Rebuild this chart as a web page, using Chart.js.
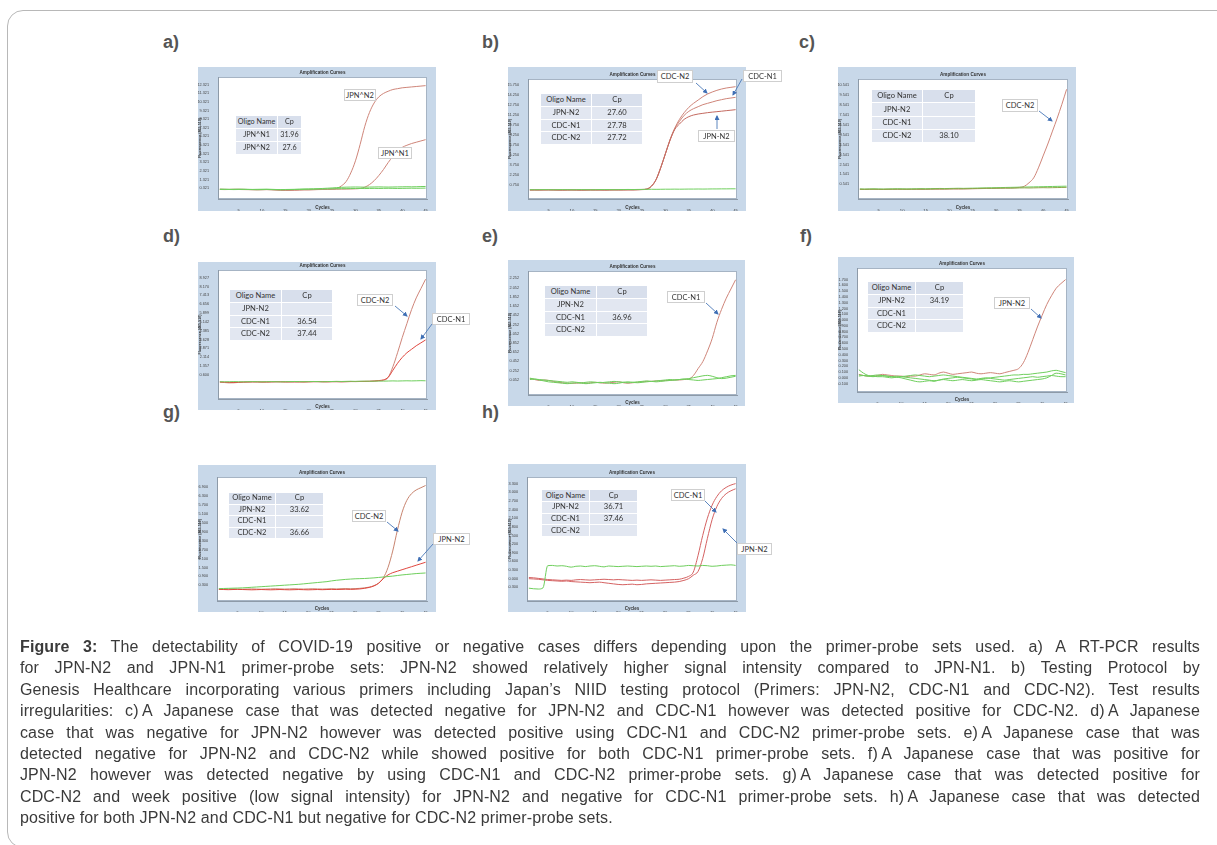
<!DOCTYPE html>
<html><head><meta charset="utf-8">
<script src="https://cdn.jsdelivr.net/npm/chart.js@4.4.0/dist/chart.umd.min.js"></script>
<style>
html,body{margin:0;padding:0;background:#fff;}
body{width:1217px;height:845px;position:relative;overflow:hidden;font-family:"Liberation Sans",Arial,sans-serif;}
#box{position:absolute;left:7px;top:10px;width:1240px;height:836px;border:1px solid #b8b8b8;border-radius:16px;}
.lab{position:absolute;font-weight:bold;font-size:18px;color:#555;line-height:18px;}
.panel{position:absolute;background:#c8d8e9;}
.panel canvas{display:block;}
table.cp{position:absolute;border-collapse:collapse;font-family:Lato,"Open Sans",sans-serif;font-size:7.6px;color:#333;table-layout:fixed;}
table.cp td{border:1.2px solid #fff;text-align:center;padding:0;background:#e2e7f1;line-height:1;white-space:nowrap;overflow:hidden;}
table.cp tr:first-child td{background:#d8dfec;}
.call{position:absolute;background:#fff;border:1px solid #cfcfcf;font-family:Lato,"Open Sans",sans-serif;font-size:7.5px;color:#333;display:flex;align-items:center;justify-content:center;box-sizing:border-box;white-space:nowrap;}
.cap{position:absolute;left:20px;white-space:nowrap;font-size:16px;letter-spacing:0.12px;color:#3a3a3a;line-height:21.4px;}
</style></head>
<body>
<div id="box"></div>
<script>
// ---------------- data ----------------
const cycles = [1,2,3,4,5,6,7,8,9,10,11,12,13,14,15,16,17,18,19,20,21,22,23,24,25,26,27,28,29,30,31,32,33,34,35,36,37,38,39,40,41,42,43,44,45];
const xTicks = [5,10,15,20,25,30,35,40,45];

// a)
const aJpnN2 = [0.22,0.20,0.19,0.20,0.21,0.20,0.18,0.17,0.16,0.17,0.18,0.16,0.13,0.10,0.08,0.09,0.11,0.13,0.15,0.14,0.16,0.18,0.20,0.22,0.24,0.30,0.60,1.10,2.10,3.50,5.40,7.50,9.10,10.20,10.90,11.30,11.55,11.75,11.85,11.95,12.00,12.05,12.10,12.15,12.20];
const aJpnN1 = [0.18,0.17,0.18,0.19,0.18,0.17,0.16,0.15,0.14,0.15,0.16,0.15,0.12,0.09,0.07,0.08,0.10,0.12,0.14,0.15,0.16,0.17,0.18,0.19,0.20,0.21,0.22,0.23,0.24,0.26,0.30,0.45,0.75,1.20,1.80,2.50,3.30,4.00,4.60,5.05,5.30,5.50,5.65,5.80,5.95];
const aGreen1 = [0.22,0.21,0.20,0.21,0.22,0.21,0.20,0.19,0.20,0.21,0.22,0.20,0.18,0.17,0.18,0.19,0.20,0.22,0.24,0.25,0.26,0.28,0.30,0.33,0.36,0.40,0.43,0.45,0.46,0.47,0.46,0.45,0.46,0.47,0.48,0.47,0.46,0.47,0.48,0.49,0.50,0.49,0.50,0.52,0.53];
const aGreen2 = [0.18,0.19,0.18,0.17,0.18,0.19,0.18,0.17,0.16,0.17,0.18,0.17,0.16,0.15,0.16,0.17,0.18,0.19,0.20,0.21,0.22,0.23,0.24,0.25,0.26,0.27,0.28,0.28,0.29,0.30,0.30,0.29,0.30,0.31,0.30,0.31,0.32,0.31,0.30,0.31,0.32,0.33,0.32,0.33,0.34];
const aTicks = [0.321,1.321,2.321,3.321,4.321,5.321,6.321,7.321,8.321,9.321,10.321,11.321,12.321];
const aTable = [["JPN^N1","31.96"],["JPN^N2","27.6"]];

// b)
const bCdcN2 = [0.02,0.01,0.02,0.03,0.02,0.01,0.00,0.01,0.02,0.01,0.00,-0.01,0.00,0.01,0.02,0.01,0.00,0.01,0.02,0.03,0.02,0.03,0.04,0.05,0.08,0.15,0.60,1.60,3.40,5.50,7.60,9.30,10.60,11.60,12.40,13.00,13.50,14.00,14.40,14.70,14.95,15.15,15.30,15.40,15.50];
const bCdcN1 = [0.01,0.02,0.01,0.02,0.03,0.02,0.01,0.00,0.01,0.02,0.01,0.00,0.01,0.02,0.01,0.02,0.01,0.02,0.03,0.02,0.03,0.04,0.03,0.05,0.07,0.14,0.58,1.58,3.38,5.48,7.55,9.20,10.30,11.20,11.80,12.20,12.50,12.80,13.00,13.20,13.40,13.55,13.70,13.80,13.90];
const bJpnN2 = [0.00,0.01,0.00,0.01,0.02,0.01,0.00,-0.01,0.00,0.01,0.00,-0.01,0.00,0.01,0.00,0.01,0.00,0.01,0.02,0.01,0.02,0.03,0.02,0.04,0.06,0.12,0.55,1.55,3.35,5.45,7.50,9.10,9.90,10.60,11.00,11.25,11.40,11.50,11.60,11.68,11.75,11.82,11.90,11.97,12.05];
const bGreen = [0.05,0.04,0.05,0.06,0.05,0.04,0.05,0.06,0.05,0.04,0.05,0.06,0.05,0.04,0.05,0.06,0.07,0.06,0.05,0.06,0.07,0.08,0.07,0.08,0.09,0.10,0.11,0.10,0.11,0.12,0.12,0.13,0.12,0.13,0.14,0.14,0.15,0.14,0.15,0.16,0.16,0.17,0.17,0.18,0.18];
const bTicks = [0.75,2.25,3.75,5.25,6.75,8.25,9.75,11.25,12.75,14.25,15.75];
const bTable = [["JPN-N2","27.60"],["CDC-N1","27.78"],["CDC-N2","27.72"]];

// c)
const cCdcN2 = [0.06,0.05,0.06,0.05,0.04,0.05,0.06,0.05,0.04,0.05,0.06,0.05,0.04,0.03,0.04,0.05,0.06,0.05,0.06,0.07,0.08,0.07,0.08,0.09,0.10,0.11,0.12,0.13,0.14,0.15,0.16,0.17,0.18,0.20,0.24,0.35,0.70,1.20,2.20,3.40,4.60,5.90,7.20,8.60,10.10];
const cGreen1 = [0.08,0.07,0.08,0.09,0.08,0.07,0.08,0.09,0.10,0.09,0.08,0.09,0.10,0.11,0.10,0.11,0.12,0.13,0.12,0.13,0.14,0.15,0.14,0.15,0.16,0.17,0.18,0.19,0.20,0.21,0.22,0.23,0.24,0.25,0.26,0.27,0.28,0.29,0.30,0.31,0.32,0.33,0.34,0.35,0.36];
const cGreen2 = [0.04,0.03,0.04,0.05,0.04,0.03,0.04,0.05,0.06,0.05,0.04,0.05,0.06,0.07,0.06,0.07,0.08,0.09,0.08,0.09,0.10,0.11,0.10,0.11,0.12,0.13,0.14,0.15,0.14,0.15,0.16,0.17,0.16,0.17,0.18,0.19,0.18,0.19,0.20,0.21,0.20,0.21,0.22,0.23,0.24];
const cTicks = [0.541,1.541,2.541,3.541,4.541,5.541,6.541,7.541,8.541,9.541,10.541];
const cTable = [["JPN-N2",""],["CDC-N1",""],["CDC-N2","38.10"]];

// d)
const dCdcN2 = [-0.02,-0.05,-0.08,-0.07,-0.04,-0.02,-0.01,0.00,0.01,0.00,-0.01,0.00,0.01,0.02,0.01,0.00,-0.01,0.00,0.01,0.02,0.03,0.02,0.01,0.02,0.03,0.02,0.01,0.02,0.03,0.04,0.05,0.04,0.05,0.07,0.10,0.14,0.40,1.30,2.50,3.80,5.00,6.20,7.20,8.00,8.80];
const dCdcN1 = [0.00,-0.02,-0.04,-0.05,-0.03,-0.01,0.00,0.01,0.00,-0.01,0.00,0.01,0.02,0.01,0.00,0.01,0.02,0.01,0.00,0.01,0.02,0.03,0.02,0.01,0.02,0.03,0.02,0.03,0.04,0.03,0.04,0.05,0.06,0.08,0.12,0.18,0.40,1.00,1.60,2.10,2.50,2.80,3.10,3.35,3.60];
const dGreen = [0.02,0.01,0.02,0.03,0.02,0.01,0.02,0.03,0.02,0.01,0.02,0.03,0.02,0.01,0.02,0.03,0.04,0.03,0.02,0.03,0.04,0.03,0.02,0.03,0.04,0.05,0.04,0.05,0.06,0.05,0.06,0.07,0.06,0.07,0.08,0.07,0.08,0.09,0.08,0.09,0.10,0.09,0.10,0.11,0.10];
const dTicks = [0.600,1.357,2.114,2.871,3.628,4.385,5.142,5.899,6.656,7.413,8.170,8.927];
const dTable = [["JPN-N2",""],["CDC-N1","36.54"],["CDC-N2","37.44"]];

// e)
const eCdcN1 = [0.08,0.06,0.04,0.05,0.04,0.02,0.00,-0.01,-0.02,-0.02,-0.02,-0.01,-0.02,-0.01,0.00,-0.01,-0.02,-0.01,0.00,0.01,-0.01,-0.02,-0.01,0.00,0.01,0.02,0.02,0.03,0.03,0.04,0.04,0.05,0.05,0.06,0.07,0.15,0.30,0.45,0.68,0.95,1.30,1.58,1.82,2.02,2.22];
const eGreen1 = [0.06,0.07,0.05,0.03,0.01,0.00,-0.01,-0.02,-0.03,-0.02,-0.01,-0.02,-0.03,-0.02,-0.01,0.00,-0.01,-0.02,-0.03,-0.02,0.00,0.01,0.00,-0.01,0.00,0.01,0.02,0.01,0.02,0.03,0.04,0.05,0.06,0.07,0.08,0.10,0.12,0.14,0.15,0.13,0.10,0.08,0.09,0.11,0.13];
const eGreen2 = [0.09,0.07,0.06,0.05,0.04,0.03,0.02,0.01,0.00,0.01,0.00,-0.01,0.00,0.01,0.00,-0.01,0.00,0.01,0.02,0.01,0.00,-0.01,0.00,0.01,0.02,0.03,0.02,0.03,0.04,0.05,0.06,0.05,0.06,0.07,0.06,0.05,0.04,0.05,0.06,0.07,0.08,0.10,0.12,0.14,0.15];
const eTicks = [0.052,0.252,0.452,0.652,0.852,1.052,1.252,1.452,1.652,1.852,2.052,2.252];
const eTable = [["JPN-N2",""],["CDC-N1","36.96"],["CDC-N2",""]];

// f)
const fJpnN2 = [0.06,0.04,0.03,0.03,0.04,0.06,0.05,0.04,0.03,0.03,0.02,0.03,0.03,0.05,0.07,0.06,0.05,0.08,0.10,0.08,0.06,0.07,0.08,0.09,0.10,0.08,0.07,0.08,0.09,0.08,0.07,0.09,0.11,0.13,0.16,0.26,0.44,0.66,0.88,1.08,1.27,1.42,1.55,1.63,1.70];
const fGreen1 = [0.14,0.08,0.04,0.03,0.02,0.02,0.01,0.00,0.01,0.00,-0.02,-0.04,-0.06,-0.07,-0.06,-0.05,-0.06,-0.04,-0.02,-0.01,0.00,0.01,0.00,-0.01,-0.02,-0.03,-0.02,-0.01,0.00,0.01,0.02,0.03,0.04,0.05,0.05,0.06,0.06,0.07,0.08,0.09,0.10,0.12,0.13,0.11,0.09];
const fGreen2 = [0.03,0.04,0.03,0.02,0.03,0.04,0.03,0.02,0.01,0.02,0.03,0.04,0.05,0.04,0.03,0.02,0.03,0.04,0.05,0.04,0.03,0.02,0.01,0.00,-0.01,-0.02,-0.01,0.00,-0.01,-0.02,-0.03,-0.04,-0.03,-0.02,-0.01,0.00,0.01,0.02,0.01,0.02,0.03,0.04,0.03,0.02,0.02];
const fGreen3 = [0.05,0.04,0.03,0.04,0.05,0.04,0.03,0.02,0.03,0.02,0.01,0.00,-0.01,-0.02,-0.03,-0.04,-0.05,-0.04,-0.03,-0.04,-0.05,-0.04,-0.03,-0.04,-0.05,-0.04,-0.03,-0.04,-0.05,-0.06,-0.07,-0.06,-0.05,-0.06,-0.07,-0.06,-0.05,-0.04,-0.03,-0.02,0.00,0.04,0.08,0.07,0.05];
const fTicks = [-0.1,0.0,0.1,0.2,0.3,0.4,0.5,0.6,0.7,0.8,0.9,1.0,1.1,1.2,1.3,1.4,1.5,1.6,1.7];
const fTable = [["JPN-N2","34.19"],["CDC-N1",""],["CDC-N2",""]];

// g)
const gCdcN2 = [0.05,0.04,0.05,0.06,0.05,0.04,0.05,0.06,0.05,0.04,0.05,0.06,0.07,0.06,0.05,0.06,0.07,0.06,0.05,0.06,0.07,0.06,0.05,0.06,0.07,0.06,0.07,0.08,0.07,0.08,0.10,0.13,0.18,0.28,0.45,0.80,1.50,2.60,4.00,5.20,6.00,6.45,6.70,6.85,7.00];
const gJpnN2 = [0.03,0.02,0.01,0.02,0.03,0.02,0.01,0.00,0.01,0.02,0.01,0.00,0.01,0.02,0.01,0.00,0.01,0.02,0.01,0.00,0.01,0.02,0.01,0.02,0.03,0.02,0.03,0.04,0.03,0.04,0.06,0.10,0.16,0.26,0.44,0.75,1.00,1.15,1.25,1.35,1.45,1.55,1.65,1.75,1.85];
const gGreen = [0.08,0.09,0.10,0.11,0.12,0.13,0.15,0.17,0.19,0.21,0.23,0.25,0.27,0.29,0.31,0.33,0.35,0.37,0.40,0.43,0.46,0.49,0.52,0.55,0.60,0.64,0.67,0.70,0.72,0.74,0.75,0.76,0.78,0.80,0.83,0.86,0.89,0.92,0.96,1.00,1.03,1.06,1.09,1.11,1.13];
const gTicks = [0.3,0.9,1.5,2.1,2.7,3.3,3.9,4.5,5.1,5.7,6.3,6.9];
const gTable = [["JPN-N2","33.62"],["CDC-N1",""],["CDC-N2","36.66"]];

// h)
const hCdcN1 = [0.04,0.03,0.01,-0.01,-0.03,-0.04,-0.05,-0.06,-0.05,-0.06,-0.04,-0.03,-0.04,-0.05,-0.04,-0.03,-0.02,-0.03,-0.04,-0.03,-0.04,-0.05,-0.06,-0.05,-0.06,-0.05,-0.04,-0.05,-0.06,-0.05,-0.04,-0.03,-0.02,0.02,0.08,0.23,0.80,1.50,2.10,2.55,2.85,3.05,3.17,3.25,3.30];
const hJpnN2 = [0.00,-0.01,-0.02,-0.04,-0.06,-0.07,-0.08,-0.09,-0.08,-0.10,-0.11,-0.12,-0.13,-0.14,-0.13,-0.12,-0.14,-0.16,-0.18,-0.20,-0.21,-0.20,-0.19,-0.21,-0.20,-0.18,-0.17,-0.16,-0.15,-0.14,-0.13,-0.12,-0.10,-0.06,0.00,0.12,0.25,0.70,1.40,2.05,2.50,2.78,2.95,3.05,3.12];
const hGreen = [-0.33,-0.35,-0.36,-0.32,0.45,0.46,0.44,0.45,0.43,0.40,0.43,0.44,0.42,0.44,0.45,0.43,0.41,0.44,0.43,0.42,0.43,0.44,0.43,0.42,0.43,0.44,0.43,0.44,0.42,0.43,0.44,0.45,0.43,0.44,0.46,0.45,0.44,0.46,0.45,0.43,0.44,0.46,0.47,0.48,0.46];
const hTicks = [-0.3,0.0,0.3,0.6,0.9,1.2,1.5,1.8,2.1,2.4,2.7,3.0,3.3];
const hTable = [["JPN-N2","36.71"],["CDC-N1","37.46"],["CDC-N2",""]];

const captionLines = [
"Figure 3: The detectability of COVID-19 positive or negative cases differs depending upon the primer-probe sets used. a) A RT-PCR results",
"for JPN-N2 and JPN-N1 primer-probe sets: JPN-N2 showed relatively higher signal intensity compared to JPN-N1. b) Testing Protocol by",
"Genesis Healthcare incorporating various primers including Japan\u2019s NIID testing protocol (Primers: JPN-N2, CDC-N1 and CDC-N2). Test results",
"irregularities: c)\u2009A Japanese case that was detected negative for JPN-N2 and CDC-N1 however was detected positive for CDC-N2. d)\u2009A Japanese",
"case that was negative for JPN-N2 however was detected positive using CDC-N1 and CDC-N2 primer-probe sets. e)\u2009A Japanese case that was",
"detected negative for JPN-N2 and CDC-N2 while showed positive for both CDC-N1 primer-probe sets. f)\u2009A Japanese case that was positive for",
"JPN-N2 however was detected negative by using CDC-N1 and CDC-N2 primer-probe sets. g)\u2009A Japanese case that was detected positive for",
"CDC-N2 and week positive (low signal intensity) for JPN-N2 and negative for CDC-N1 primer-probe sets. h)\u2009A Japanese case that was detected",
"positive for both JPN-N2 and CDC-N1 but negative for CDC-N2 primer-probe sets."
];

// ---------------- styles / layout ----------------
const SALMON='#cf8579', RED='#e0473f', DARKRED='#c46a60', GREEN='#6fcf5d', OLIVE='#8ea64a';

const framePlugin = {
  id:'frame',
  beforeDraw(ch){
    const {ctx, chartArea:a} = ch;
    ctx.save();
    ctx.fillStyle='#fff';
    ctx.fillRect(a.left,a.top,a.right-a.left,a.bottom-a.top);
    ctx.strokeStyle='#a6b4c4'; ctx.lineWidth=1;
    ctx.strokeRect(a.left+0.5,a.top+0.5,a.right-a.left-1,a.bottom-a.top-1);
    ctx.restore();
  },
  afterDraw(ch){
    const {ctx, chartArea:a} = ch;
    ctx.save();
    ctx.font='bold 4.6px "Liberation Sans"';
    ctx.fillStyle='#333'; ctx.textAlign='center'; ctx.textBaseline='middle';
    ctx.fillText('Amplification Curves',(a.left+a.right)/2,a.top-4);
    ctx.restore();
  }
};

function panel(frame, plot, yMin, yMax, yTicks, series){
  const W=frame[2]-frame[0], H=frame[3]-frame[1];
  const div=document.createElement('div'); div.className='panel';
  Object.assign(div.style,{left:frame[0]+'px',top:frame[1]+'px',width:W+'px',height:H+'px'});
  const cv=document.createElement('canvas'); cv.width=W; cv.height=H;
  cv.style.width=W+'px'; cv.style.height=H+'px';
  div.appendChild(cv); document.body.appendChild(div);
  const padL=plot[0]-frame[0], padT=plot[1]-frame[1], padR=frame[2]-plot[2], padB=frame[3]-plot[3];
  new Chart(cv,{
    type:'line',
    data:{datasets:series.map(s=>({
      data:cycles.map((c,i)=>({x:c,y:s.v[i]})),
      borderColor:s.c, borderWidth:s.w||1, pointRadius:0, fill:false,
      cubicInterpolationMode:'monotone'
    }))},
    options:{
      responsive:false, animation:false, devicePixelRatio:1, events:[],
      layout:{padding:{top:padT,right:padR,left:0,bottom:0}},
      plugins:{legend:{display:false},tooltip:{enabled:false},title:{display:false}},
      scales:{
        x:{type:'linear',min:0.6,max:45.3,
          afterBuildTicks:ax=>{ax.ticks=xTicks.map(v=>({value:v}));},
          afterFit:s=>{s.height=padB;},
          ticks:{autoSkip:false,maxRotation:0,font:{size:4.2,family:'Liberation Sans'},color:'#444',padding:1},
          grid:{display:false}, border:{color:'#8d9aa8',width:1},
          title:{display:true,text:'Cycles',font:{size:4.5,weight:'bold',family:'Liberation Sans'},color:'#333',padding:{top:0,bottom:1}}},
        y:{type:'linear',min:yMin,max:yMax,
          afterBuildTicks:ax=>{ax.ticks=yTicks.map(v=>({value:v}));},
          afterFit:s=>{s.width=padL;},
          ticks:{autoSkip:false,font:{size:3.8,family:'Liberation Sans'},color:'#444',padding:1,callback:v=>Number(v).toFixed(3)},
          grid:{display:false}, border:{color:'#8d9aa8',width:1},
          title:{display:true,text:'Fluorescence (465-510)',font:{size:3.6,weight:'bold',family:'Liberation Sans'},color:'#333',padding:{top:0,bottom:0}}}
      }
    },
    plugins:[framePlugin]
  });
}

function table(x,y,w1,w2,rh,rows,fs){
  const t=document.createElement('table'); t.className='cp';
  Object.assign(t.style,{left:x+'px',top:y+'px',width:(w1+w2)+'px'});
  if(fs) t.style.fontSize=fs+'px';
  const all=[["Oligo Name","Cp"]].concat(rows);
  let html='<colgroup><col style="width:'+w1+'px"><col style="width:'+w2+'px"></colgroup>';
  all.forEach(r=>{html+='<tr style="height:'+rh+'px"><td>'+r[0]+'</td><td>'+r[1]+'</td></tr>';});
  t.innerHTML=html; document.body.appendChild(t);
}
function callout(x,y,w,h,text){
  const d=document.createElement('div'); d.className='call';
  Object.assign(d.style,{left:x+'px',top:y+'px',width:w+'px',height:h+'px'});
  d.textContent=text; document.body.appendChild(d);
}
function label(x,y,t){
  const d=document.createElement('div'); d.className='lab';
  d.style.left=x+'px'; d.style.top=y+'px'; d.textContent=t; document.body.appendChild(d);
}

// panel labels
label(163,33,'a)'); label(482,33,'b)'); label(799,33,'c)');
label(163,227,'d)'); label(482,227,'e)'); label(800,227,'f)');
label(163,403,'g)'); label(482,403,'h)');

// charts
panel([198,67,436,211],[218,77,427,199],-0.92,13.2,aTicks,[
  {v:aGreen2,c:GREEN},{v:aGreen1,c:GREEN},{v:aJpnN1,c:SALMON},{v:aJpnN2,c:SALMON}]);
panel([508,67,746,211],[528,79,737,199],-1.35,16.65,bTicks,[
  {v:bGreen,c:GREEN},{v:bJpnN2,c:DARKRED},{v:bCdcN1,c:SALMON},{v:bCdcN2,c:SALMON}]);
panel([838,67,1076,211],[858,79,1068,199],-0.93,11.14,cTicks,[
  {v:cGreen2,c:OLIVE},{v:cGreen1,c:GREEN},{v:cCdcN2,c:SALMON}]);
panel([198,262,436,410],[218,270,427,399],-1.46,9.59,dTicks,[
  {v:dGreen,c:GREEN},{v:dCdcN1,c:RED},{v:dCdcN2,c:SALMON}]);
panel([508,260,745,406],[528,271,737,395],-0.275,2.41,eTicks,[
  {v:eGreen1,c:GREEN},{v:eGreen2,c:GREEN},{v:eCdcN1,c:SALMON}]);
panel([838,257,1074,403],[857,268,1067,392],-0.245,1.90,fTicks,[
  {v:fGreen1,c:GREEN},{v:fGreen2,c:GREEN},{v:fGreen3,c:GREEN},{v:fJpnN2,c:SALMON}]);
panel([198,465,436,612],[217,477,427,601],-0.75,7.57,gTicks,[
  {v:gGreen,c:GREEN},{v:gJpnN2,c:RED},{v:gCdcN2,c:'#c8846f'}]);
panel([508,464,746,612],[527,477,737,601],-0.775,3.53,hTicks,[
  {v:hGreen,c:GREEN},{v:hJpnN2,c:'#d56262'},{v:hCdcN1,c:'#d56262'}]);

// tables
table(235,115,42,24,13,aTable,7.2);
table(540,93,51,51,12.75,bTable);
table(871,89,51,53,13.25,cTable);
table(229,289,52,51,12.75,dTable);
table(544,285,52,51,12.75,eTable);
table(867,281,48,48,12.75,fTable);
table(228,492,47,48,11.5,gTable);
table(541,489,48,48,11.75,hTable);

// callouts
callout(344,89,32,12,'JPN^N2');
callout(378,147,34,12,'JPN^N1');
callout(657,70,36,13,'CDC-N2');
callout(743,70,39,12,'CDC-N1');
callout(698,130,37,12,'JPN-N2');
callout(1002,99,36,13,'CDC-N2');
callout(357,294,36,12,'CDC-N2');
callout(432,313,38,12,'CDC-N1');
callout(667,291,38,12,'CDC-N1');
callout(994,297,36,12,'JPN-N2');
callout(352,510,34,12,'CDC-N2');
callout(433,533,37,12,'JPN-N2');
callout(671,489,34,12,'CDC-N1');
callout(737,543,35,12,'JPN-N2');

// arrows (annotation layer)
const arrows=[[696,83,707,93],[742,79,733,95],[717,129,717,116],[1039,111,1052,121],
  [395,306,407,316],[432,324,421,339],[706,303,718,314],[1031,309,1041,318],
  [387,522,398,531],[433,544,418,561],[705,501,716,512],[737,543,723,529]];
const NS='http://www.w3.org/2000/svg';
const svg=document.createElementNS(NS,'svg');
svg.setAttribute('width','1217'); svg.setAttribute('height','845');
svg.style.cssText='position:absolute;left:0;top:0;pointer-events:none';
svg.innerHTML='<defs><marker id="ah" markerWidth="5" markerHeight="5" refX="4" refY="2.5" orient="auto" markerUnits="userSpaceOnUse"><path d="M0,0 L5,2.5 L0,5 z" fill="#3f6fb5"/></marker></defs>';
arrows.forEach(a=>{
  const l=document.createElementNS(NS,'line');
  l.setAttribute('x1',a[0]);l.setAttribute('y1',a[1]);l.setAttribute('x2',a[2]);l.setAttribute('y2',a[3]);
  l.setAttribute('stroke','#4a78b8');l.setAttribute('stroke-width','0.9');l.setAttribute('marker-end','url(#ah)');
  svg.appendChild(l);
});
document.body.appendChild(svg);

// caption: each line justified to the same width via word spacing
captionLines.forEach((t,i)=>{
  const d=document.createElement('div'); d.className='cap';
  d.style.top=(636+i*21.4)+'px';
  if(i===0){ d.innerHTML='<b>Figure 3:</b>'+t.slice(9); } else { d.textContent=t; }
  document.body.appendChild(d);
  if(i<captionLines.length-1){
    const w=d.getBoundingClientRect().width;
    const n=(t.match(/ /g)||[]).length;
    d.style.wordSpacing=((1180-w)/n)+'px';
  }
});
</script>
</body></html>
